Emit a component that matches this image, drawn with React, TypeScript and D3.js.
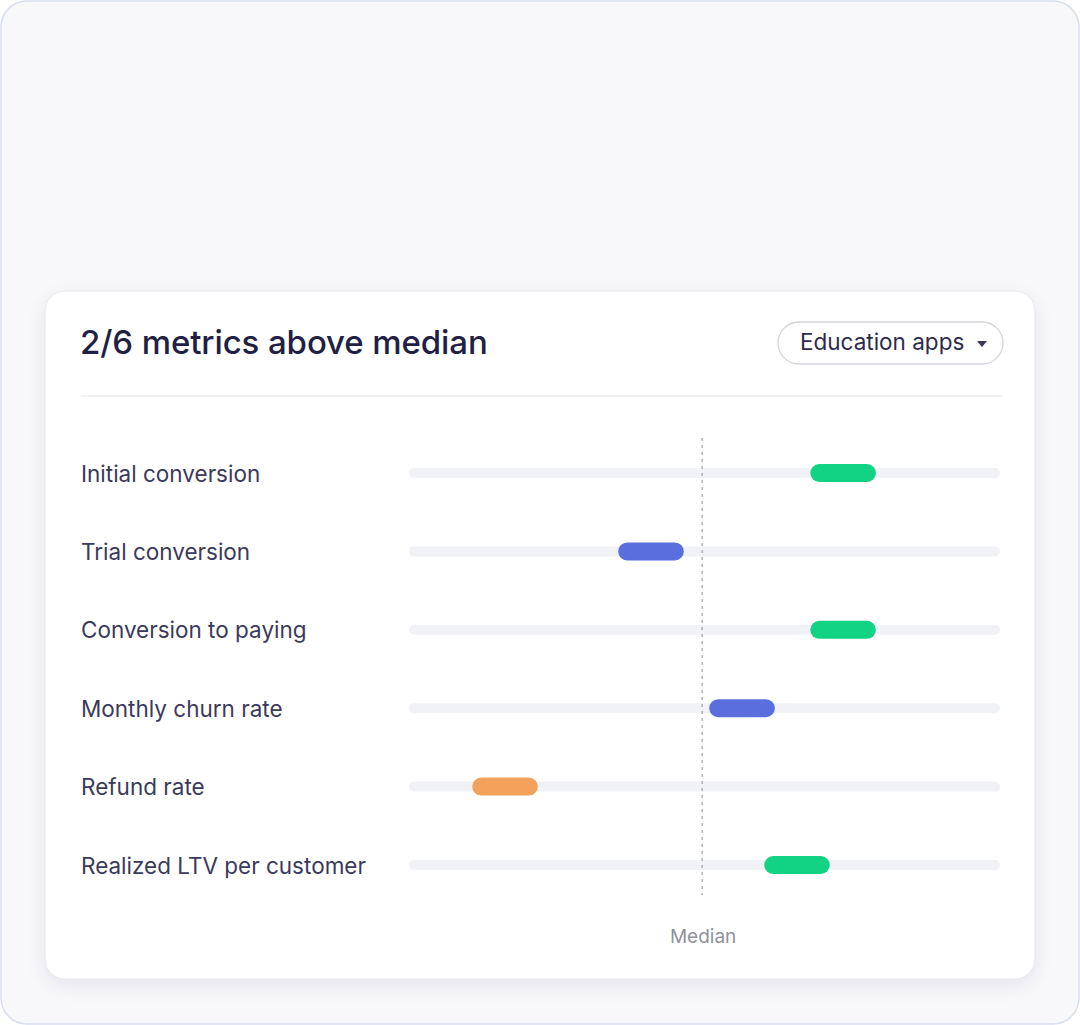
import React from "react";
import * as d3 from "d3";

const metrics = [
  "Initial conversion",
  "Trial conversion",
  "Conversion to paying",
  "Monthly churn rate",
  "Refund rate",
  "Realized LTV per customer",
];
const rangeLow = [67.9, 35.4, 67.9, 50.8, 10.7, 60.1];
const rangeHigh = [79.0, 46.5, 79.0, 61.9, 21.8, 71.2];
const status = ["good", "mid", "good", "mid", "bad", "good"];
const medianValue = 49.6;
const title = "2/6 metrics above median";
const dropdownLabel = "Education apps";
const medianLabel = "Median";

const statusColor: Record<string, string> = {
  good: "#12d283",
  mid: "#5a6fdd",
  bad: "#f4a25b",
};

export default function App() {
  const W = 1080;
  const H = 1025;
  const x = d3.scaleLinear().domain([0, 100]).range([409, 1000]);
  const y = d3.scalePoint<string>().domain(metrics).range([473, 865]);
  const font = "Inter, 'Noto Sans', sans-serif";

  return (
    <svg
      width={W}
      height={H}
      style={{ position: "absolute", left: 0, top: 0, display: "block" }}
    >
      <defs>
        <filter id="shadow" x="-10%" y="-10%" width="120%" height="125%">
          <feDropShadow dx="0" dy="6" stdDeviation="9" floodColor="#1c2050" floodOpacity="0.08" />
        </filter>
      </defs>
      <rect x={1} y={1} width={W - 2} height={H - 2} rx={26} fill="#f8f8fa" stroke="#d9def0" strokeWidth={1.5} />
      <rect x={45} y={291} width={990} height={688} rx={20} fill="#ffffff" stroke="#e6e6ea" strokeWidth={1} filter="url(#shadow)" />

      <text x={80} y={354} fontFamily={font} fontSize={33} fontWeight={500} fill="#211f44" letterSpacing={-0.1}>
        {title}
      </text>

      <rect x={778} y={322} width={225} height={42} rx={21} fill="#ffffff" stroke="#d3d5dc" strokeWidth={1.3} />
      <text x={800} y={350} fontFamily={font} fontSize={22.5} fill="#2d2b4d">
        {dropdownLabel}
      </text>
      <path d="M977,341 L987,341 L982,347 Z" fill="#3a3956" />

      <line x1={81} x2={1003} y1={396} y2={396} stroke="#eceef3" strokeWidth={1.5} />

      {metrics.map((m) => (
        <g key={m}>
          <text x={81} y={(y(m) as number) + 8.5} fontFamily={font} fontSize={22.5} fill="#3a3a5c">
            {m}
          </text>
          <rect
            x={x(0)}
            y={(y(m) as number) - 5}
            width={x(100) - x(0)}
            height={10}
            rx={5}
            fill="#f1f2f6"
          />
        </g>
      ))}

      <line
        x1={x(medianValue)}
        x2={x(medianValue)}
        y1={438}
        y2={895}
        stroke="#a3a4ad"
        strokeWidth={1.3}
        strokeDasharray="3,4"
      />

      {metrics.map((m, i) => (
        <rect
          key={m + "-bar"}
          x={x(rangeLow[i])}
          y={(y(m) as number) - 9}
          width={x(rangeHigh[i]) - x(rangeLow[i])}
          height={18}
          rx={9}
          fill={statusColor[status[i]]}
        />
      ))}

      <text
        x={x(medianValue) + 1}
        y={943}
        textAnchor="middle"
        fontFamily={font}
        fontSize={19}
        fill="#8f919b"
      >
        {medianLabel}
      </text>
    </svg>
  );
}
